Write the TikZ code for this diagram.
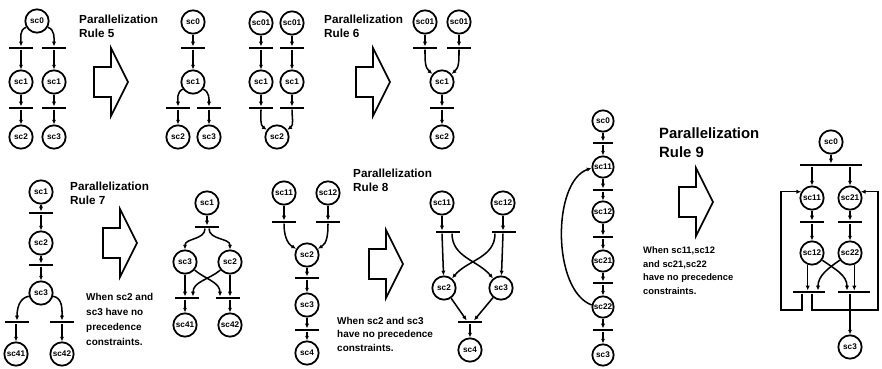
\documentclass[tikz,border=0pt]{standalone}
\usepackage{fontspec}
\setmainfont{Liberation Sans}
\usetikzlibrary{arrows.meta}

\begin{document}
\begin{tikzpicture}[x=0.3mm,y=0.3mm,
    place/.style={circle,draw,line width=1.5pt,minimum size=7mm,inner sep=0pt,font=\fontsize{7}{8}\selectfont\bfseries},
    trans/.style={fill,minimum width=7.2mm,minimum height=0.8mm,inner sep=0pt},
    flow/.style={line width=1.3pt,-{Latex[length=4pt,width=3.6pt]}},
    title/.style={anchor=base west,align=left,inner sep=0pt,font=\fontsize{10}{12.8}\selectfont\bfseries},
    note/.style={anchor=base west,align=left,inner sep=0pt,font=\fontsize{8.5}{12.8}\selectfont\bfseries},
    rulearrow/.pic={\draw[line width=1.5pt,line join=miter] (-34,-15) -- (-17,-15) -- (-17,-34) -- (0,0) -- (-17,34) -- (-17,15) -- (-34,15) -- cycle;}]
    \useasboundingbox (0,0) rectangle (882,-369);

    % rule 5
    \node[place] (a0) at (37,-21) {sc0};
    \node[trans] (a1) at (21,-48) {};
    \node[trans] (a2) at (54,-48) {};
    \node[place] (a3) at (21,-82) {sc1};
    \node[place] (a4) at (54,-82) {sc1};
    \node[trans] (a5) at (21,-108) {};
    \node[trans] (a6) at (54,-108) {};
    \node[place] (a7) at (21,-137) {sc2};
    \node[place] (a8) at (54,-137) {sc3};
    \draw[flow] (a0.210) to[out=200,in=90] (a1);
    \draw[flow] (a0.-30) to[out=-20,in=90] (a2);
    \draw[flow] (a1) -- (a3);
    \draw[flow] (a2) -- (a4);
    \draw[flow] (a3) -- (a5);
    \draw[flow] (a4) -- (a6);
    \draw[flow] (a5) -- (a7);
    \draw[flow] (a6) -- (a8);

    \node[title] (r5) at (79,-38) {Parallelization\\Rule 5};
    \pic at (128,-82) {rulearrow};

    \node[place] (b0) at (193,-22) {sc0};
    \node[trans] (b1) at (193,-48) {};
    \node[place] (b2) at (193,-82) {sc1};
    \node[trans] (b3) at (178,-108) {};
    \node[trans] (b4) at (209,-108) {};
    \node[place] (b5) at (178,-137) {sc2};
    \node[place] (b6) at (209,-137) {sc3};
    \draw[flow] (b0) -- (b1);
    \draw[flow] (b1) -- (b2);
    \draw[flow] (b2.215) to[out=205,in=90] (b3);
    \draw[flow] (b2.-35) to[out=-25,in=90] (b4);
    \draw[flow] (b3) -- (b5);
    \draw[flow] (b4) -- (b6);

    % rule 6
    \node[place] (c0) at (261,-23) {sc01};
    \node[place] (c1) at (292,-23) {sc01};
    \node[trans] (c2) at (261,-48) {};
    \node[trans] (c3) at (292,-48) {};
    \node[place] (c4) at (261,-82) {sc1};
    \node[place] (c5) at (292,-82) {sc1};
    \node[trans] (c6) at (261,-108) {};
    \node[trans] (c7) at (292,-108) {};
    \node[place] (c8) at (277,-137) {sc2};
    \draw[flow] (c0) -- (c2);
    \draw[flow] (c1) -- (c3);
    \draw[flow] (c2) -- (c4);
    \draw[flow] (c3) -- (c5);
    \draw[flow] (c4) -- (c6);
    \draw[flow] (c5) -- (c7);
    \draw[flow] (c6) to[out=-90,in=145] (c8);
    \draw[flow] (c7) to[out=-90,in=35] (c8);

    \node[title] (r6) at (324,-38) {Parallelization\\Rule 6};
    \pic at (390,-82) {rulearrow};

    \node[place] (d0) at (425,-22) {sc01};
    \node[place] (d1) at (459,-22) {sc01};
    \node[trans] (d2) at (425,-48) {};
    \node[trans] (d3) at (459,-48) {};
    \node[place] (d4) at (442,-82) {sc1};
    \node[trans] (d5) at (442,-108) {};
    \node[place] (d6) at (442,-137) {sc2};
    \draw[flow] (d0) -- (d2);
    \draw[flow] (d1) -- (d3);
    \draw[flow] (d2) to[out=-90,in=140] (d4);
    \draw[flow] (d3) to[out=-90,in=40] (d4);
    \draw[flow] (d4) -- (d5);
    \draw[flow] (d5) -- (d6);

    % rule 7
    \node[place] (e0) at (41,-192) {sc1};
    \node[trans] (e1) at (41,-213) {};
    \node[place] (e2) at (41,-243) {sc2};
    \node[trans] (e3) at (41,-265) {};
    \node[place] (e4) at (41,-293) {sc3};
    \node[trans] (e5) at (17,-322) {};
    \node[trans] (e6) at (62,-322) {};
    \node[place] (e7) at (16,-354) {sc41};
    \node[place] (e8) at (62,-354) {sc42};
    \draw[flow] (e0) -- (e1);
    \draw[flow] (e1) -- (e2);
    \draw[flow] (e2) -- (e3);
    \draw[flow] (e3) -- (e4);
    \draw[flow] (e4.195) to[out=190,in=90] (e5);
    \draw[flow] (e4.-15) to[out=-10,in=90] (e6);
    \draw[flow] (e5.south -| e7) -- (e7);
    \draw[flow] (e6) -- (e8);

    \node[title] (r7) at (70,-205) {Parallelization\\Rule 7};
    \pic at (137,-243) {rulearrow};
    \node[note] (n7) at (86,-345) {When sc2 and\\sc3 have no\\precedence\\constraints.};

    \node[place] (f0) at (207,-203) {sc1};
    \node[trans] (f1) at (207,-227) {};
    \node[place] (f2) at (185,-262) {sc3};
    \node[place] (f3) at (230,-262) {sc2};
    \node[trans] (f4) at (187,-298) {};
    \node[trans] (f5) at (228,-298) {};
    \node[place] (f6) at (185,-325) {sc41};
    \node[place] (f7) at (230,-325) {sc42};
    \draw[flow] (f0) -- (f1);
    \draw[flow] ([xshift=-0.6mm]f1.south) to[out=-90,in=90] (f2);
    \draw[flow] ([xshift=0.6mm]f1.south) to[out=-90,in=90] (f3);
    \draw[flow] (f2) -- (f2 |- f4.north);
    \draw[flow] (f3) -- (f3 |- f5.north);
    \draw[flow] (f2.-40) to[out=-40,in=90] ([xshift=-2.4mm]f5.north);
    \draw[flow] (f3.-140) to[out=-140,in=90] ([xshift=1.8mm]f4.north);
    \draw[flow] (f4.south -| f6) -- (f6);
    \draw[flow] (f5.south -| f7) -- (f7);

    % rule 8
    \node[place] (g0) at (284,-193) {sc11};
    \node[place] (g1) at (328,-193) {sc12};
    \node[trans] (g2) at (284,-222) {};
    \node[trans] (g3) at (328,-222) {};
    \node[place] (g4) at (307,-255) {sc2};
    \node[trans] (g5) at (307,-278) {};
    \node[place] (g6) at (307,-305) {sc3};
    \node[trans] (g7) at (307,-330) {};
    \node[place] (g8) at (307,-353) {sc4};
    \draw[flow] (g0) -- (g2);
    \draw[flow] (g1) -- (g3);
    \draw[flow] (g2) to[out=-90,in=150] (g4);
    \draw[flow] (g3) to[out=-90,in=30] (g4);
    \draw[flow] (g4) -- (g5);
    \draw[flow] (g5) -- (g6);
    \draw[flow] (g6) -- (g7);
    \draw[flow] (g7) -- (g8);

    \node[title] (r8) at (353,-192) {Parallelization\\Rule 8};
    \pic at (403,-264) {rulearrow};
    \node[note,font=\fontsize{8.5}{11.5}\selectfont\bfseries] (n8) at (337,-351) {When sc2 and sc3\\have no precedence\\constraints.};

    \node[place] (h0) at (442,-203) {sc11};
    \node[place] (h1) at (503,-203) {sc12};
    \node[trans] (h2) at (448,-232) {};
    \node[trans] (h3) at (504,-232) {};
    \node[place] (h4) at (444,-288) {sc2};
    \node[place] (h5) at (501,-288) {sc3};
    \node[trans] (h6) at (470,-322) {};
    \node[place] (h7) at (470,-350) {sc4};
    \draw[flow] (h0) -- (h0 |- h2.north);
    \draw[flow] (h1) -- (h1 |- h3.north);
    \draw[flow] (h2.south -| h0) -- (h4);
    \draw[flow] (h3.south -| h1) -- (h5);
    \draw[flow] ([xshift=1.2mm]h2.south) to[out=-90,in=130] (h5);
    \draw[flow] ([xshift=-2.7mm]h3.south) to[out=-90,in=50] (h4);
    \draw[flow] (h4) -- ([xshift=-1mm]h6.north);
    \draw[flow] (h5) -- ([xshift=1.2mm]h6.north);
    \draw[flow] (h6) -- (h7);

    % rule 9
    \begin{scope}[place/.append style={minimum size=6.4mm},trans/.append style={minimum width=6mm}]
    \node[place] (k0) at (603,-121) {sc0};
    \node[trans] (k1) at (603,-143) {};
    \node[place] (k2) at (603,-167) {sc11};
    \node[trans] (k3) at (603,-190) {};
    \node[place] (k4) at (603,-212) {sc12};
    \node[trans] (k5) at (603,-237) {};
    \node[place] (k6) at (603,-261) {sc21};
    \node[trans] (k7) at (603,-283) {};
    \node[place] (k8) at (603,-307) {sc22};
    \node[trans] (k9) at (603,-330) {};
    \node[place] (k10) at (603,-355) {sc3};
    \end{scope}
    \foreach \i [count=\j from 1] in {0,...,9}
        \draw[flow] (k\i) -- (k\j);
    \draw[flow] (k8.170) .. controls (552,-290) and (552,-182) .. (k2.185);

    \node[title,font=\fontsize{12.7}{17}\selectfont\bfseries] (r9) at (659,-158) {Parallelization\\Rule 9};
    \pic at (713,-202) {rulearrow};
    \node[note,font=\fontsize{8}{11.4}\selectfont\bfseries] (n9) at (643,-294) {When sc11,sc12\\and sc21,sc22\\have no precedence\\constraints.};

    \node[place] (m0) at (831,-142) {sc0};
    \node[trans,minimum width=18.6mm] (m1) at (831,-165) {};
    \node[place] (m2) at (812,-198) {sc11};
    \node[place] (m3) at (850,-198) {sc21};
    \node[trans] (m4) at (812,-222) {};
    \node[trans] (m5) at (850,-222) {};
    \node[place] (m6) at (812,-253) {sc12};
    \node[place] (m7) at (850,-253) {sc22};
    \node[trans,minimum width=9.6mm] (m8) at (809,-292) {};
    \node[trans,minimum width=9.6mm] (m9) at (854,-292) {};
    \node[place] (m10) at (850,-347) {sc3};
    \coordinate (lpA) at (781,-310);
    \coordinate (rpA) at (878,-310);
    \draw[flow] (m0) -- (m1);
    \draw[flow] (m1.south -| m2) -- (m2);
    \draw[flow] (m1.south -| m3) -- (m3);
    \draw[flow] (m2) -- (m4);
    \draw[flow] (m4) -- (m6);
    \draw[flow] (m3) -- (m5);
    \draw[flow] (m5) -- (m7);
    \draw[flow] (m6.-110) -- (m6.-110 |- m8.north);
    \draw[flow] (m7.-70) -- (m7.-70 |- m9.north);
    \draw[flow] (m6.-35) to[out=-35,in=90] ([xshift=-2.1mm]m9.north);
    \draw[flow] (m7.-145) to[out=-145,in=90] ([xshift=2.7mm]m8.north);
    \draw[flow] (m9.south -| m10) -- (m10);
    \draw[flow] ([xshift=-2.1mm]m8.south) |- (lpA) |- (m2.150);
    \draw[flow] ([xshift=0.9mm]m8.south) |- (rpA) |- (m3.30);
\end{tikzpicture}
\end{document}
